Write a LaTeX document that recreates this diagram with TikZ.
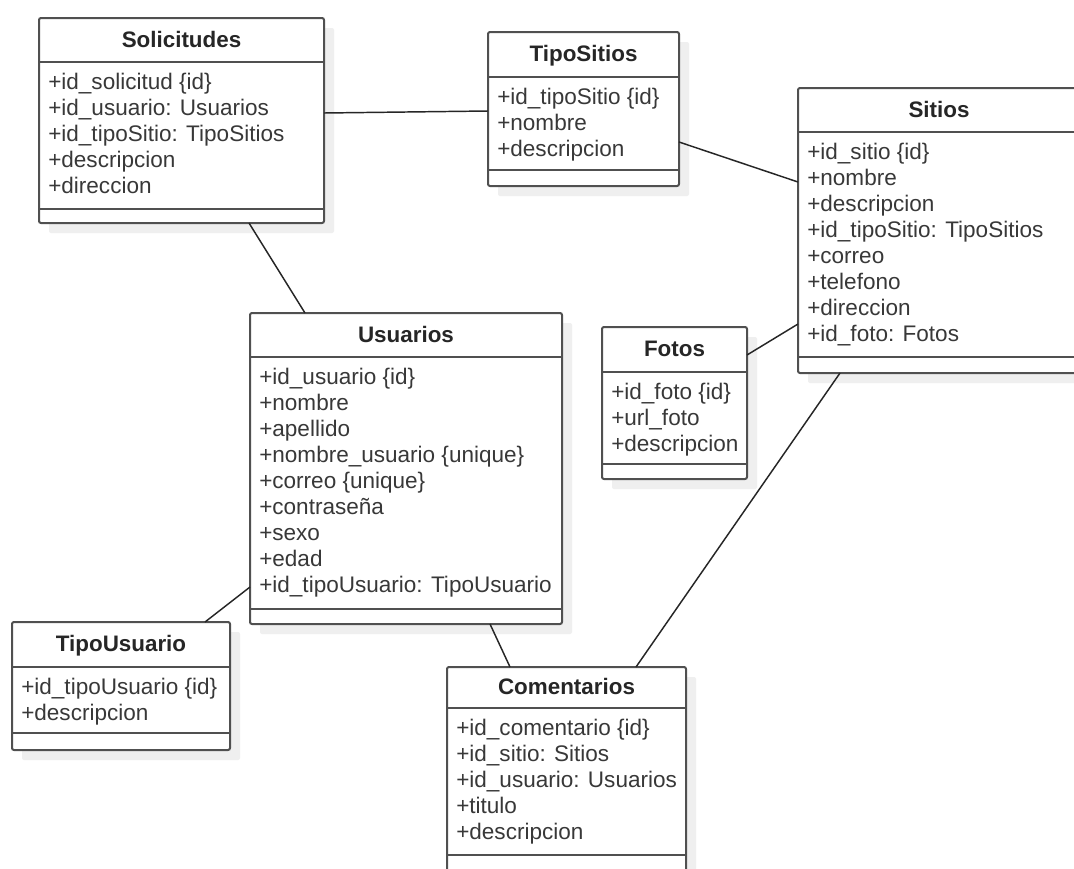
\documentclass[tikz,border=0pt]{standalone}
\usepackage{fontspec}
\setmainfont{Liberation Sans}
\usetikzlibrary{shadows,calc}
\definecolor{boxline}{HTML}{505050}
\definecolor{txt}{HTML}{383838}
\definecolor{shade}{HTML}{EFEFEF}
\tikzset{
  x=0.75pt, y=-0.75pt,
  umlbox/.style={draw=boxline, line width=1.5pt, fill=white, rounded corners=1.5pt,
    inner sep=0pt, outer sep=0pt, anchor=north west,
    general shadow={fill=shade, shadow xshift=7.5pt, shadow yshift=-7.5pt}},
  sepline/.style={draw=boxline, line width=1.5pt},
  titletext/.style={font=\bfseries\fontsize{16.8}{18}\selectfont, text=black!85, anchor=base, inner sep=0pt},
  attrtext/.style={font=\fontsize{16.9}{18}\selectfont, text=txt, anchor=base west, inner sep=0pt},
  conn/.style={draw=black!85, line width=1.1pt},
}
\newcommand\umlclass[9]{%
  \node[umlbox, minimum width={(#4-#2)*0.75pt}, minimum height={(#7-#3)*0.75pt}] (#1) at (#2,#3) {};
  \draw[sepline] (#2,#5) -- (#4,#5);
  \draw[sepline] (#2,#6) -- (#4,#6);
  \node[titletext] (#1-t) at ({(#2+#4)/2},{(#3+#5)/2+7}) {#8};
  \foreach \ln [count=\k from 0] in {#9} \node[attrtext] (#1-a\k) at (#2+9,#5+27+\k*26) {\ln};
}
\begin{document}
\begin{tikzpicture}
\useasboundingbox (0,0) rectangle (1074,868);
\fill[white] (0,0) rectangle (1074,868);

\umlclass{sol}{39}{18}{324}{62}{209}{223}{Solicitudes}{+id\_solicitud \{id\},+id\_usuario: Usuarios,+id\_tipoSitio: TipoSitios,+descripcion,+direccion}
\umlclass{ts}{488}{32}{679}{77}{170}{186}{TipoSitios}{+id\_tipoSitio \{id\},+nombre,+descripcion}
\umlclass{sit}{798}{88}{1080}{132}{357}{373}{Sitios}{+id\_sitio \{id\},+nombre,+descripcion,+id\_tipoSitio: TipoSitios,+correo,+telefono,+direccion,+id\_foto: Fotos}
\umlclass{usu}{250}{313}{562}{357}{609}{624}{Usuarios}{+id\_usuario \{id\},+nombre,+apellido,+nombre\_usuario \{unique\},+correo \{unique\},+contraseña,+sexo,+edad,+id\_tipoUsuario: TipoUsuario}
\umlclass{fot}{602}{327}{747}{372}{464}{479}{Fotos}{+id\_foto \{id\},+url\_foto,+descripcion}
\umlclass{tu}{12}{622}{230}{667}{733}{750}{TipoUsuario}{+id\_tipoUsuario \{id\},+descripcion}
\umlclass{com}{447}{667}{686}{708}{855}{880}{Comentarios}{+id\_comentario \{id\},+id\_sitio: Sitios,+id\_usuario: Usuarios,+titulo,+descripcion}

\draw[conn] ([shift={(0,95)}]sol.north east) -- ([shift={(0,79)}]ts.north west);
\draw[conn] ([shift={(0,110)}]ts.north east) -- ([shift={(0,94)}]sit.north west);
\draw[conn] ([shift={(210,0)}]sol.south west) -- ([shift={(55,0)}]usu.north west);
\draw[conn] ([shift={(0,28)}]fot.north east) -- ([shift={(0,236)}]sit.north west);
\draw[conn] ([shift={(0,274)}]usu.north west) -- ([shift={(-25,0)}]tu.north east);
\draw[conn] ([shift={(240,0)}]usu.south west) -- ([shift={(63,0)}]com.north west);
\draw[conn] ([shift={(42,0)}]sit.south west) -- ([shift={(189,0)}]com.north west);
\end{tikzpicture}
\end{document}
